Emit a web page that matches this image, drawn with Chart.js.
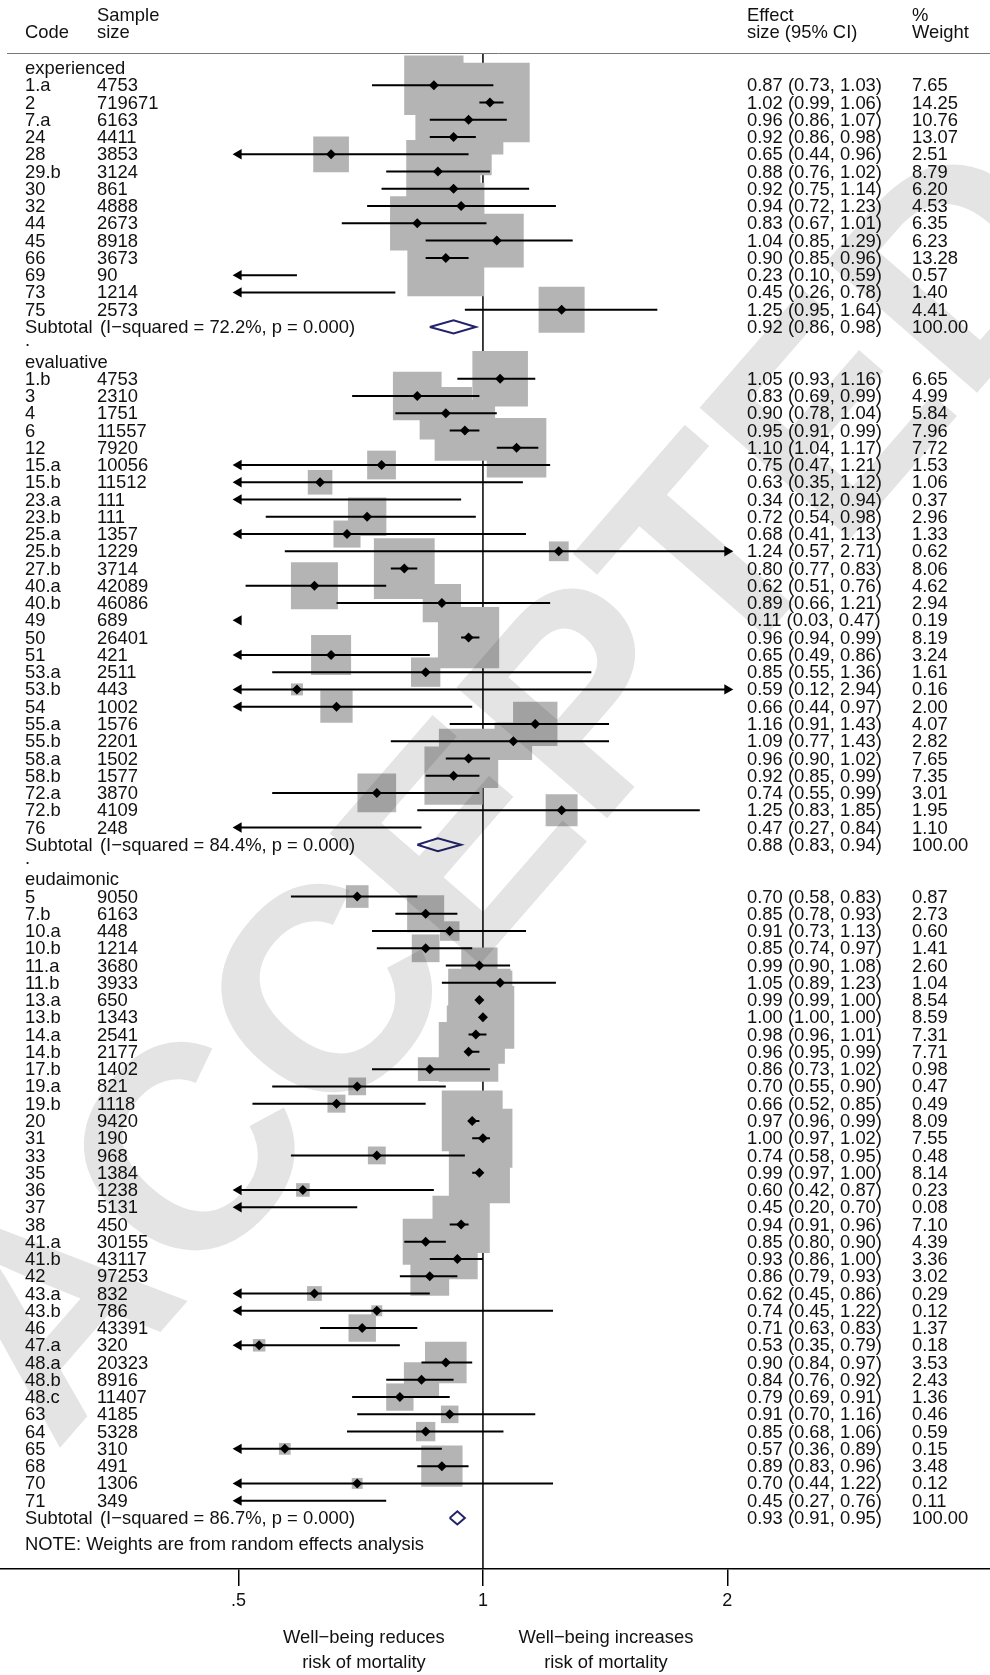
<!DOCTYPE html>
<html>
<head>
<meta charset="utf-8">
<script src="https://cdn.jsdelivr.net/npm/chart.js@4.4.1/dist/chart.umd.min.js"></script>
<style>
  html, body { margin: 0; padding: 0; background: #fff; }
  #wrap { width: 990px; height: 1675px; position: relative; }
</style>
</head>
<body>
<div id="wrap"><canvas id="forest"></canvas></div>
<script>
/* ========= DATA ========= */

const GROUPS = ["experienced", "evaluative", "eudaimonic"];
const GROUP_COUNTS = [14, 27, 36];

const CODES = [
  "1.a", "2", "7.a", "24", "28", "29.b", "30", "32", "44", "45", "66", "69", "73", "75",
  "1.b", "3", "4", "6", "12", "15.a", "15.b", "23.a", "23.b", "25.a", "25.b", "27.b", "40.a", "40.b",
  "49", "50", "51", "53.a", "53.b", "54", "55.a", "55.b", "58.a", "58.b", "72.a", "72.b", "76",
  "5", "7.b", "10.a", "10.b", "11.a", "11.b", "13.a", "13.b", "14.a", "14.b", "17.b", "19.a", "19.b",
  "20", "31", "33", "35", "36", "37", "38", "41.a", "41.b", "42", "43.a", "43.b", "46", "47.a",
  "48.a", "48.b", "48.c", "63", "64", "65", "68", "70", "71"
];
const SAMPLE = [
  4753, 719671, 6163, 4411, 3853, 3124, 861, 4888, 2673, 8918, 3673, 90, 1214, 2573,
  4753, 2310, 1751, 11557, 7920, 10056, 11512, 111, 111, 1357, 1229, 3714, 42089, 46086,
  689, 26401, 421, 2511, 443, 1002, 1576, 2201, 1502, 1577, 3870, 4109, 248,
  9050, 6163, 448, 1214, 3680, 3933, 650, 1343, 2541, 2177, 1402, 821, 1118,
  9420, 190, 968, 1384, 1238, 5131, 450, 30155, 43117, 97253, 832, 786, 43391, 320,
  20323, 8916, 11407, 4185, 5328, 310, 491, 1306, 349
];
const EST = [
  0.87, 1.02, 0.96, 0.92, 0.65, 0.88, 0.92, 0.94, 0.83, 1.04, 0.90, 0.23, 0.45, 1.25,
  1.05, 0.83, 0.90, 0.95, 1.10, 0.75, 0.63, 0.34, 0.72, 0.68, 1.24, 0.80, 0.62, 0.89,
  0.11, 0.96, 0.65, 0.85, 0.59, 0.66, 1.16, 1.09, 0.96, 0.92, 0.74, 1.25, 0.47,
  0.70, 0.85, 0.91, 0.85, 0.99, 1.05, 0.99, 1.00, 0.98, 0.96, 0.86, 0.70, 0.66,
  0.97, 1.00, 0.74, 0.99, 0.60, 0.45, 0.94, 0.85, 0.93, 0.86, 0.62, 0.74, 0.71, 0.53,
  0.90, 0.84, 0.79, 0.91, 0.85, 0.57, 0.89, 0.70, 0.45
];
const LO = [
  0.73, 0.99, 0.86, 0.86, 0.44, 0.76, 0.75, 0.72, 0.67, 0.85, 0.85, 0.10, 0.26, 0.95,
  0.93, 0.69, 0.78, 0.91, 1.04, 0.47, 0.35, 0.12, 0.54, 0.41, 0.57, 0.77, 0.51, 0.66,
  0.03, 0.94, 0.49, 0.55, 0.12, 0.44, 0.91, 0.77, 0.90, 0.85, 0.55, 0.83, 0.27,
  0.58, 0.78, 0.73, 0.74, 0.90, 0.89, 0.99, 1.00, 0.96, 0.95, 0.73, 0.55, 0.52,
  0.96, 0.97, 0.58, 0.97, 0.42, 0.20, 0.91, 0.80, 0.86, 0.79, 0.45, 0.45, 0.63, 0.35,
  0.84, 0.76, 0.69, 0.70, 0.68, 0.36, 0.83, 0.44, 0.27
];
const HI = [
  1.03, 1.06, 1.07, 0.98, 0.96, 1.02, 1.14, 1.23, 1.01, 1.29, 0.96, 0.59, 0.78, 1.64,
  1.16, 0.99, 1.04, 0.99, 1.17, 1.21, 1.12, 0.94, 0.98, 1.13, 2.71, 0.83, 0.76, 1.21,
  0.47, 0.99, 0.86, 1.36, 2.94, 0.97, 1.43, 1.43, 1.02, 0.99, 0.99, 1.85, 0.84,
  0.83, 0.93, 1.13, 0.97, 1.08, 1.23, 1.00, 1.00, 1.01, 0.99, 1.02, 0.90, 0.85,
  0.99, 1.02, 0.95, 1.00, 0.87, 0.70, 0.96, 0.90, 1.00, 0.93, 0.86, 1.22, 0.83, 0.79,
  0.97, 0.92, 0.91, 1.16, 1.06, 0.89, 0.96, 1.22, 0.76
];
const WEIGHT = [
  7.65, 14.25, 10.76, 13.07, 2.51, 8.79, 6.20, 4.53, 6.35, 6.23, 13.28, 0.57, 1.40, 4.41,
  6.65, 4.99, 5.84, 7.96, 7.72, 1.53, 1.06, 0.37, 2.96, 1.33, 0.62, 8.06, 4.62, 2.94,
  0.19, 8.19, 3.24, 1.61, 0.16, 2.00, 4.07, 2.82, 7.65, 7.35, 3.01, 1.95, 1.10,
  0.87, 2.73, 0.60, 1.41, 2.60, 1.04, 8.54, 8.59, 7.31, 7.71, 0.98, 0.47, 0.49,
  8.09, 7.55, 0.48, 8.14, 0.23, 0.08, 7.10, 4.39, 3.36, 3.02, 0.29, 0.12, 1.37, 0.18,
  3.53, 2.43, 1.36, 0.46, 0.59, 0.15, 3.48, 0.12, 0.11
];

const SUB_I2 = ["72.2", "84.4", "86.7"];
const SUB_EST = [0.92, 0.88, 0.93];
const SUB_LO = [0.86, 0.83, 0.91];
const SUB_HI = [0.98, 0.94, 0.95];

const X_TICKS = [0.5, 1, 2];
const X_TICK_LABELS = [".5", "1", "2"];

/* ========= LAYOUT ========= */

const FAMILY = '"Liberation Sans", Arial, sans-serif';
const FONT = '18.4px ' + FAMILY;
const INK = "#111";
const X_MIN = 0.2541, X_MAX = 4.214;   // 1 sits at x=483, ln2 = 245px
const CLIP_LO = 0.5, CLIP_HI = 2;
const Y_MIN = -0.87, Y_MAX = 86.96;
const COL_CODE = 25, COL_N = 97, COL_ES = 747, COL_W = 912;

// rows: label, studies, subtotal, spacer dot
const rows = [];
let r = 0, k = 0;
GROUPS.forEach((g, gi) => {
  rows.push({ type: "label", row: r++, text: g });
  for (let j = 0; j < GROUP_COUNTS[gi]; j++, k++) rows.push({ type: "study", row: r++, i: k });
  rows.push({ type: "subtotal", row: r++, g: gi });
  if (gi < GROUPS.length - 1) rows.push({ type: "dot", row: r++ });
});
const NOTE_ROW = r + 0.55;

const studies = rows.filter(d => d.type === "study").map(d => ({
  row: d.row, est: EST[d.i], lo: LO[d.i], hi: HI[d.i], w: WEIGHT[d.i]
}));
const subs = rows.filter(d => d.type === "subtotal");

const inRange = v => v >= CLIP_LO && v <= CLIP_HI;
const boxSide = w => 4 + 20 * Math.sqrt(w);

const boxData = studies.filter(s => inRange(s.est)).map(s => ({ x: s.est, y: s.row, w: s.w }));
const pointData = studies.filter(s => inRange(s.est)).map(s => ({ x: s.est, y: s.row }));

const ciData = [];
studies.forEach(s => {
  const a = Math.max(s.lo, CLIP_LO), b = Math.min(s.hi, CLIP_HI);
  if (b > a) ciData.push({ x: a, y: s.row }, { x: b, y: s.row }, { x: b, y: null });
});
const leftArrows = studies.filter(s => s.lo < CLIP_LO).map(s => ({ x: CLIP_LO, y: s.row }));
const rightArrows = studies.filter(s => s.hi > CLIP_HI).map(s => ({ x: CLIP_HI, y: s.row }));

const DH = 0.38;
const subData = [];
subs.forEach(s => {
  const g = s.g, y = s.row;
  subData.push(
    { x: SUB_LO[g], y: y }, { x: SUB_EST[g], y: y - DH }, { x: SUB_HI[g], y: y },
    { x: SUB_EST[g], y: y + DH }, { x: SUB_LO[g], y: y }, { x: SUB_LO[g], y: null }
  );
});

/* ========= TEXT COLUMNS ========= */

const fmt = v => v.toFixed(2);

const textPlugin = {
  id: "forestText",
  afterDraw(chart) {
    const { ctx, scales: { x, y } } = chart;
    ctx.save();
    ctx.fillStyle = INK;
    ctx.font = FONT;
    ctx.textAlign = "left";
    ctx.textBaseline = "middle";

    // header
    ctx.fillText("Sample", COL_N, 16);
    ctx.fillText("Code", COL_CODE, 33);
    ctx.fillText("size", COL_N, 33);
    ctx.fillText("Effect", COL_ES, 16);
    ctx.fillText("size (95% CI)", COL_ES, 33);
    ctx.fillText("%", COL_W, 16);
    ctx.fillText("Weight", COL_W, 33);

    ctx.strokeStyle = "#777";
    ctx.lineWidth = 1;
    ctx.beginPath();
    ctx.moveTo(7, 53.5);
    ctx.lineTo(990, 53.5);
    ctx.stroke();

    rows.forEach(d => {
      const py = y.getPixelForValue(d.row) + 1;
      if (d.type === "label") {
        ctx.fillText(d.text, COL_CODE, py);
      } else if (d.type === "dot") {
        ctx.fillText(".", COL_CODE, py - 4);
      } else if (d.type === "study") {
        const i = d.i;
        ctx.fillText(CODES[i], COL_CODE, py);
        ctx.fillText(String(SAMPLE[i]), COL_N, py);
        ctx.fillText(fmt(EST[i]) + " (" + fmt(LO[i]) + ", " + fmt(HI[i]) + ")", COL_ES, py);
        ctx.fillText(fmt(WEIGHT[i]), COL_W, py);
      } else {
        const g = d.g;
        ctx.fillText("Subtotal", COL_CODE, py);
        ctx.fillText("(I\u2212squared = " + SUB_I2[g] + "%, p = 0.000)", COL_N + 3, py);
        ctx.fillText(fmt(SUB_EST[g]) + " (" + fmt(SUB_LO[g]) + ", " + fmt(SUB_HI[g]) + ")", COL_ES, py);
        ctx.fillText("100.00", COL_W, py);
      }
    });

    ctx.fillText("NOTE: Weights are from random effects analysis", COL_CODE, y.getPixelForValue(NOTE_ROW));

    // direction labels under the axis
    ctx.textAlign = "center";
    const x1 = x.getPixelForValue(1);
    ctx.fillText("Well\u2212being reduces", x1 - 119, 1638);
    ctx.fillText("risk of mortality", x1 - 119, 1663);
    ctx.fillText("Well\u2212being increases", x1 + 123, 1638);
    ctx.fillText("risk of mortality", x1 + 123, 1663);
    ctx.restore();
  }
};

const watermark = {
  id: "watermark",
  afterDraw(chart) {
    const ctx = chart.ctx;
    ctx.save();
    ctx.globalCompositeOperation = "multiply";
    ctx.translate(500, 783);
    ctx.rotate(-49 * Math.PI / 180);
    ctx.font = "bold 290px " + FAMILY;
    ctx.textAlign = "center";
    ctx.textBaseline = "alphabetic";
    ctx.fillStyle = "#e4e4e4";
    ctx.fillText("ACCEPTED", 0, 104);
    ctx.restore();
  }
};

/* ========= CHART ========= */

new Chart(document.getElementById("forest"), {
  type: "scatter",
  data: {
    datasets: [
      {
        type: "line",
        data: subData,
        borderColor: "#23236b",
        borderWidth: 2,
        pointRadius: 0,
        tension: 0,
        fill: false,
        spanGaps: false,
        order: 1
      },
      {
        data: pointData,
        pointStyle: "rectRot",
        pointRadius: 5,
        backgroundColor: "#000",
        borderWidth: 0,
        order: 2
      },
      {
        data: leftArrows,
        pointStyle: "triangle",
        rotation: 270,
        pointRadius: 6,
        backgroundColor: "#000",
        borderWidth: 0,
        order: 3
      },
      {
        data: rightArrows,
        pointStyle: "triangle",
        rotation: 90,
        pointRadius: 6,
        backgroundColor: "#000",
        borderWidth: 0,
        order: 3
      },
      {
        type: "line",
        data: ciData,
        borderColor: "#000",
        borderWidth: 2,
        borderCapStyle: "butt",
        pointRadius: 0,
        spanGaps: false,
        fill: false,
        order: 4
      },
      {
        data: boxData,
        pointStyle: "rect",
        pointRadius: c => boxSide(c.raw.w) / Math.SQRT2,
        backgroundColor: "#b4b4b4",
        borderWidth: 0,
        order: 5
      },
      {
        type: "line",
        data: [{ x: 1, y: Y_MIN }, { x: 1, y: Y_MAX }],
        borderColor: "#000",
        borderWidth: 1.5,
        pointRadius: 0,
        order: 6
      }
    ]
  },
  options: {
    responsive: true,
    maintainAspectRatio: false,
    animation: false,
    layout: { autoPadding: false, padding: { top: 53, left: 0, right: 0, bottom: 0 } },
    plugins: { legend: { display: false }, tooltip: { enabled: false } },
    scales: {
      x: {
        type: "logarithmic",
        min: X_MIN,
        max: X_MAX,
        bounds: "data",
        afterBuildTicks: s => { s.ticks = X_TICKS.map(v => ({ value: v })); },
        afterFit: s => { s.height = 106; },
        ticks: {
          callback: (v, i) => X_TICK_LABELS[i],
          color: INK,
          font: { size: 18, family: FAMILY },
          padding: 4,
          maxRotation: 0,
          autoSkip: false
        },
        grid: { drawOnChartArea: false, drawTicks: true, tickLength: 17, color: "#000", lineWidth: 1.5 },
        border: { display: true, color: "#000", width: 1.5 }
      },
      y: {
        type: "linear",
        min: Y_MIN,
        max: Y_MAX,
        reverse: true,
        display: false
      }
    }
  },
  plugins: [textPlugin, watermark]
});
</script>
</body>
</html>
